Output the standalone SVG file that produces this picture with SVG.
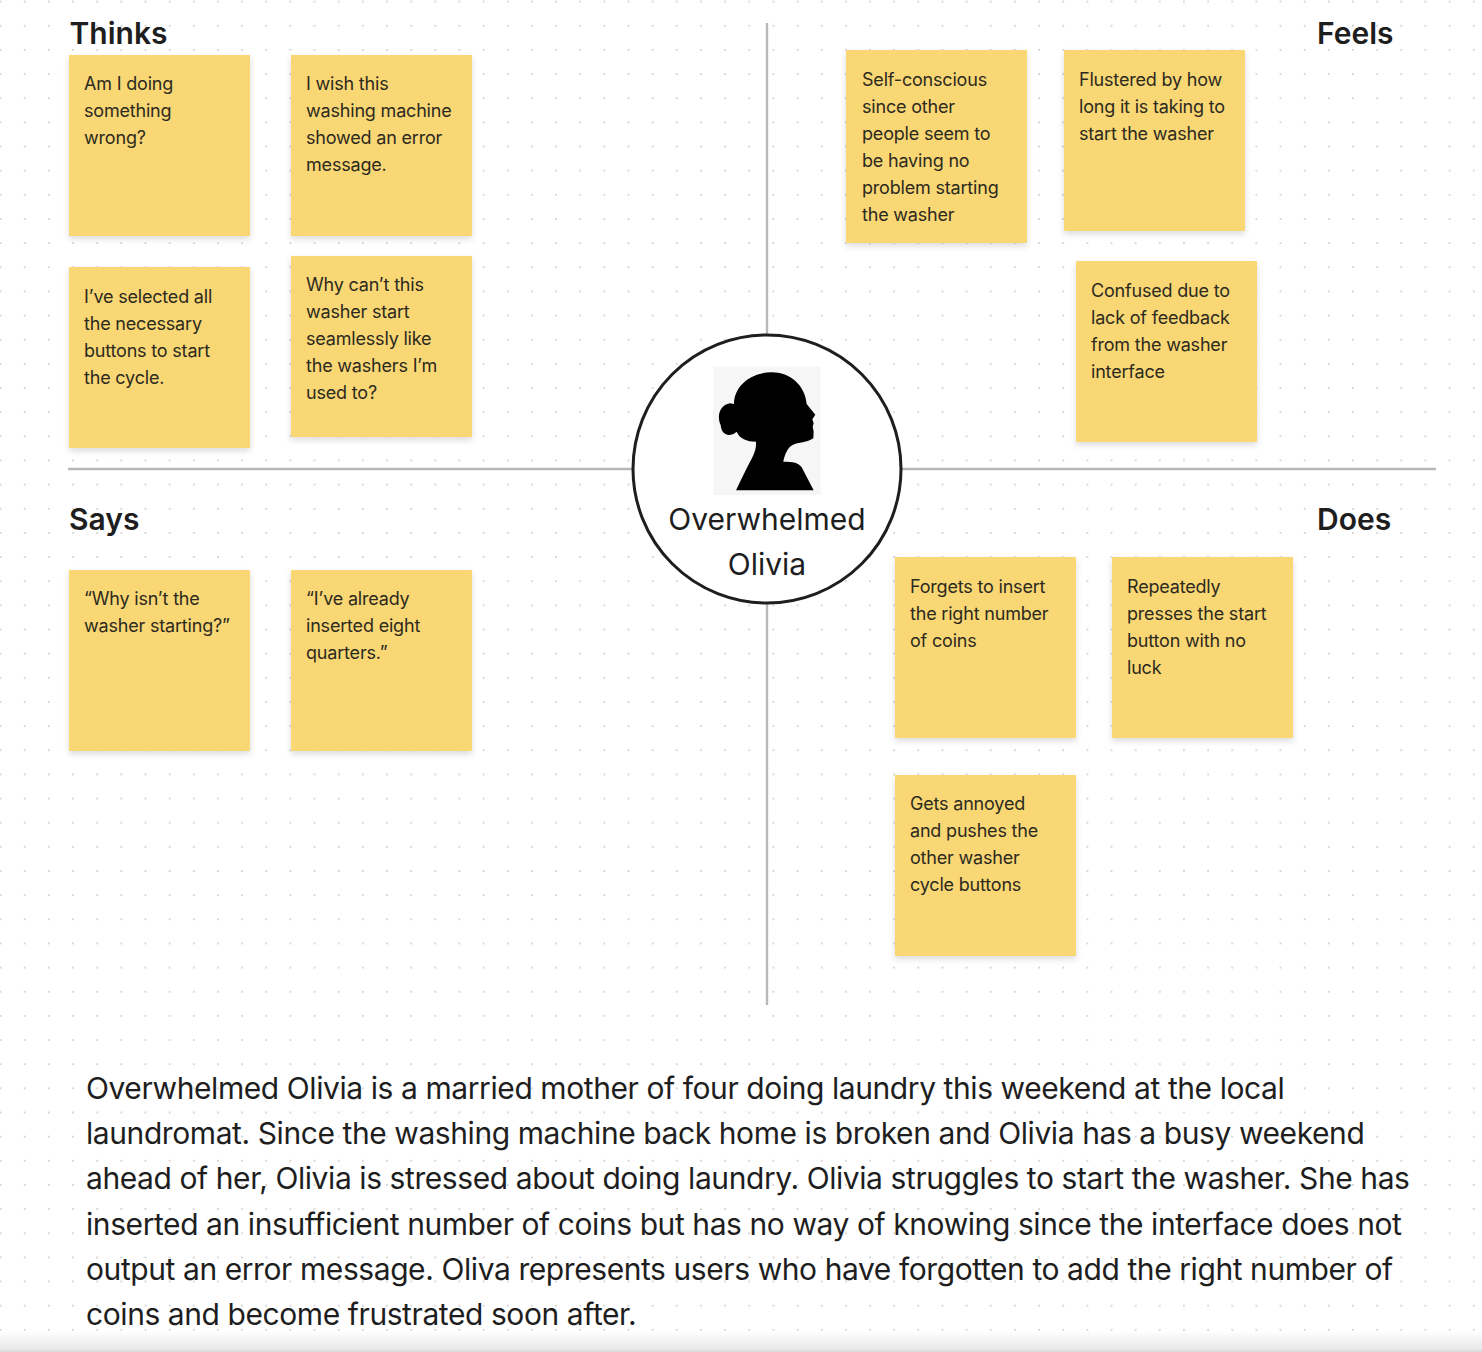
<svg xmlns="http://www.w3.org/2000/svg" width="1482" height="1352" viewBox="0 0 1482 1352">
<style>
text{font-family:Inter,"Noto Sans","Liberation Sans",sans-serif;fill:#1e1e1e}
.h{font-size:30px;font-weight:600}
.s{fill:#f9d775;filter:url(#sh)}
.n text{font-size:18px;fill:#2d2a1e;letter-spacing:-.19px}
.p{font-size:30px;letter-spacing:-.42px}
.l{stroke:#b8b8b8;stroke-width:2.4;fill:none}
</style>
<defs>
<pattern id="dots" width="24.15" height="24.15" patternUnits="userSpaceOnUse" x="0.6" y="1.6"><rect x="-0.9" y="-0.9" width="1.8" height="1.8" fill="#d2d2d2"/><rect x="23.25" y="-0.9" width="1.8" height="1.8" fill="#d2d2d2"/><rect x="-0.9" y="23.25" width="1.8" height="1.8" fill="#d2d2d2"/><rect x="23.25" y="23.25" width="1.8" height="1.8" fill="#d2d2d2"/></pattern>
<filter id="sh" x="-10%" y="-10%" width="120%" height="125%"><feDropShadow dx="0" dy="3" stdDeviation="3" flood-color="#000" flood-opacity="0.14"/></filter>
<linearGradient id="bot" x1="0" y1="0" x2="0" y2="1"><stop offset="0" stop-color="#e4e4e4" stop-opacity="0"/><stop offset="1" stop-color="#e8e8e8"/></linearGradient>
</defs>
<rect width="1482" height="1352" fill="#fff"/>
<rect width="1482" height="1352" fill="url(#dots)"/>
<rect y="1331" width="1482" height="19" fill="url(#bot)"/>
<rect y="1350" width="1482" height="2" fill="#dcdcdc"/>
<g id="connectors">
<path class="l" d="M767 23V335M767 603V1005M68 469H633M901 469H1436"/>
</g>
<g id="titles">
<text class="h" x="69.5" y="44">Thinks</text>
<text class="h" x="1317" y="44">Feels</text>
<text class="h" x="69" y="530">Says</text>
<text class="h" x="1317" y="530">Does</text>
</g>
<g id="t1" class="n"><rect class="s" x="69" y="55" width="181" height="181"/><text x="84" y="90">Am I doing</text><text x="84" y="117">something</text><text x="84" y="144">wrong?</text></g>
<g id="t2" class="n"><rect class="s" x="291" y="55" width="181" height="181"/><text x="306" y="90">I wish this</text><text x="306" y="117">washing machine</text><text x="306" y="144">showed an error</text><text x="306" y="171">message.</text></g>
<g id="t3" class="n"><rect class="s" x="69" y="267" width="181" height="181"/><text x="84" y="303">I’ve selected all</text><text x="84" y="330">the necessary</text><text x="84" y="357">buttons to start</text><text x="84" y="384">the cycle.</text></g>
<g id="t4" class="n"><rect class="s" x="291" y="256" width="181" height="181"/><text x="306" y="291">Why can’t this</text><text x="306" y="318">washer start</text><text x="306" y="345">seamlessly like</text><text x="306" y="372">the washers I’m</text><text x="306" y="399">used to?</text></g>
<g id="f1" class="n"><rect class="s" x="846" y="50" width="181" height="193"/><text x="862" y="86">Self-conscious</text><text x="862" y="113">since other</text><text x="862" y="140">people seem to</text><text x="862" y="167">be having no</text><text x="862" y="194">problem starting</text><text x="862" y="221">the washer</text></g>
<g id="f2" class="n"><rect class="s" x="1064" y="50" width="181" height="181"/><text x="1079" y="86">Flustered by how</text><text x="1079" y="113">long it is taking to</text><text x="1079" y="140">start the washer</text></g>
<g id="f3" class="n"><rect class="s" x="1076" y="261" width="181" height="181"/><text x="1091" y="297">Confused due to</text><text x="1091" y="324">lack of feedback</text><text x="1091" y="351">from the washer</text><text x="1091" y="378">interface</text></g>
<g id="s1" class="n"><rect class="s" x="69" y="570" width="181" height="181"/><text x="84" y="605">“Why isn’t the</text><text x="84" y="632">washer starting?”</text></g>
<g id="s2" class="n"><rect class="s" x="291" y="570" width="181" height="181"/><text x="306" y="605">“I’ve already</text><text x="306" y="632">inserted eight</text><text x="306" y="659">quarters.”</text></g>
<g id="d1" class="n"><rect class="s" x="895" y="557" width="181" height="181"/><text x="910" y="593">Forgets to insert</text><text x="910" y="620">the right number</text><text x="910" y="647">of coins</text></g>
<g id="d2" class="n"><rect class="s" x="1112" y="557" width="181" height="181"/><text x="1127" y="593">Repeatedly</text><text x="1127" y="620">presses the start</text><text x="1127" y="647">button with no</text><text x="1127" y="674">luck</text></g>
<g id="d3" class="n"><rect class="s" x="895" y="775" width="181" height="181"/><text x="910" y="810">Gets annoyed</text><text x="910" y="837">and pushes the</text><text x="910" y="864">other washer</text><text x="910" y="891">cycle buttons</text></g>
<g id="persona">
<circle cx="767" cy="469" r="134" fill="#fff" stroke="#1e1e1e" stroke-width="3"/>
<rect x="713.3" y="366.7" width="107.4" height="128.3" fill="#f6f6f6"/>
<path transform="translate(630 330) scale(.33333)" fill="#000" d="M318 481L350 415C365 385 380 365 378 335C350 335 328 325 320 305C300 322 275 318 272 285C260 260 268 225 300 220L312 222C312 170 360 127 425 127C480 127 525 165 530 222L556 254L547 268L551 280L548 290L551 305L550 325C530 340 500 335 480 350C470 360 462 380 460 395C490 395 505 398 515 412L551 481Z"/>
<text x="767" y="530" text-anchor="middle" font-size="30">Overwhelmed</text>
<text x="767" y="575" text-anchor="middle" font-size="30">Olivia</text>
</g>
<g id="description">
<text class="p" x="86" y="1098.5">Overwhelmed Olivia is a married mother of four doing laundry this weekend at the local</text>
<text class="p" x="86" y="1143.5">laundromat. Since the washing machine back home is broken and Olivia has a busy weekend</text>
<text class="p" x="86" y="1189">ahead of her, Olivia is stressed about doing laundry. Olivia struggles to start the washer. She has</text>
<text class="p" x="86" y="1234.5">inserted an insufficient number of coins but has no way of knowing since the interface does not</text>
<text class="p" x="86" y="1279.5">output an error message. Oliva represents users who have forgotten to add the right number of</text>
<text class="p" x="86" y="1325">coins and become frustrated soon after.</text>
</g>
</svg>
